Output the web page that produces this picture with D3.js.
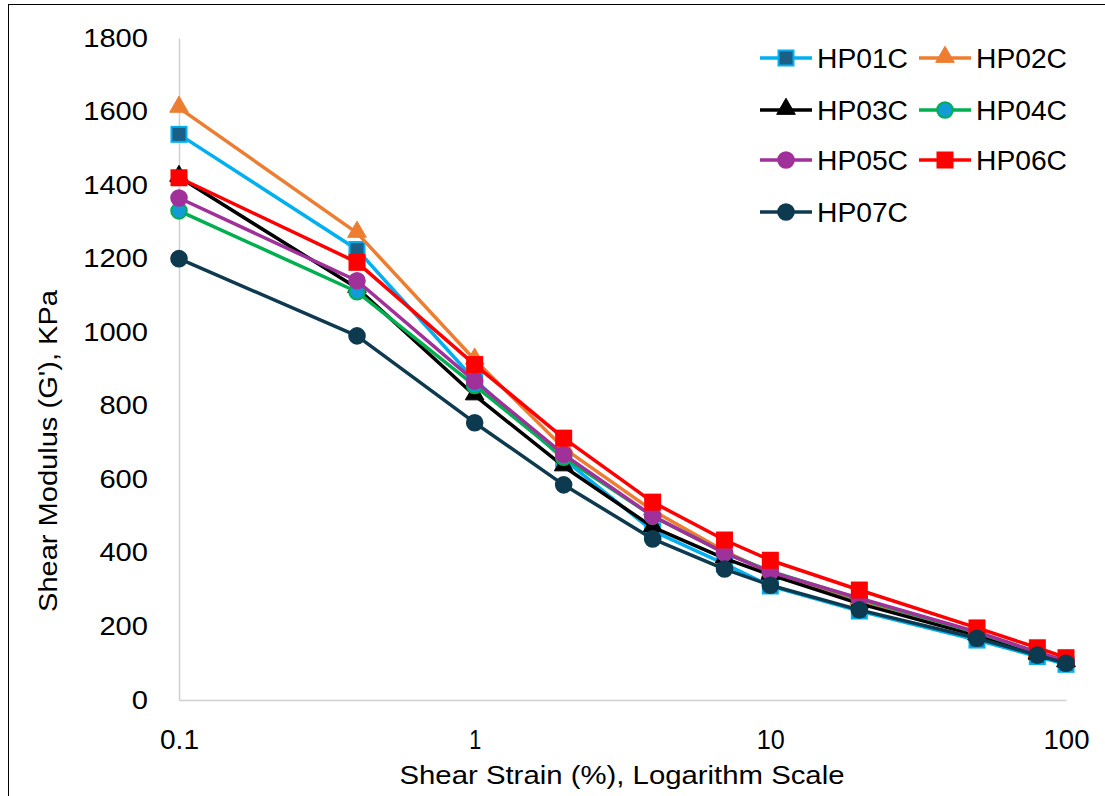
<!DOCTYPE html>
<html>
<head>
<meta charset="utf-8">
<script src="https://cdn.jsdelivr.net/npm/d3@7"></script>
<style>
  html, body { margin: 0; padding: 0; background: #fff; }
  svg { display: block; font-family: "Liberation Sans", Arial, sans-serif; }
</style>
</head>
<body>
<svg id="chart" width="1105" height="796"></svg>
<script>
// ---- data ----
const strain = [0.1, 0.4, 1, 2, 4, 7, 10, 20, 50, 80, 100];
const seriesNames = ["HP01C", "HP02C", "HP03C", "HP04C", "HP05C", "HP06C", "HP07C"];
const HP01C = [1538, 1225, 870, 655, 460, 370, 310, 242, 163, 118, 97];
const HP02C = [1610, 1270, 925, 685, 515, 405, 345, 272, 182, 128, 104];
const HP03C = [1422, 1120, 828, 635, 470, 385, 340, 262, 175, 123, 102];
const HP04C = [1330, 1110, 855, 660, 500, 400, 350, 275, 183, 130, 105];
const HP05C = [1365, 1140, 867, 668, 500, 400, 348, 277, 185, 130, 106];
const HP06C = [1420, 1190, 912, 712, 538, 435, 380, 299, 196, 142, 115];
const HP07C = [1200, 990, 754, 585, 438, 356, 312, 245, 168, 122, 100];
const yTicks = [0, 200, 400, 600, 800, 1000, 1200, 1400, 1600, 1800];
const xTicks = [0.1, 1, 10, 100];
const xTickLabels = ["0.1", "1", "10", "100"];
const xTitle = "Shear Strain (%), Logarithm Scale";
const yTitle = "Shear Modulus (G'), KPa";

const values = [HP01C, HP02C, HP03C, HP04C, HP05C, HP06C, HP07C];

// ---- styles ----
const styles = {
  HP01C: { line: "#00B0F0", fill: "#1B5E86", stroke: "#00B0F0", shape: "square" },
  HP02C: { line: "#ED7D31", fill: "#ED7D31", stroke: "#ED7D31", shape: "triangle" },
  HP03C: { line: "#000000", fill: "#000000", stroke: "#000000", shape: "triangle" },
  HP04C: { line: "#00B050", fill: "#139BD6", stroke: "#00B050", shape: "circle" },
  HP05C: { line: "#A0309A", fill: "#A0309A", stroke: "#A0309A", shape: "circle" },
  HP06C: { line: "#FF0000", fill: "#FF0000", stroke: "#FF0000", shape: "square" },
  HP07C: { line: "#0E3A50", fill: "#0E3A50", stroke: "#0E3A50", shape: "circle" }
};

const svg = d3.select("#chart");

// outer border (cropped on right/bottom in reference)
svg.append("rect").attr("x", 8.5).attr("y", 4.5).attr("width", 1200).attr("height", 900)
  .attr("fill", "none").attr("stroke", "#000").attr("stroke-width", 1);

const x = d3.scaleLog().domain([0.1, 100]).range([179, 1066]);
const y = d3.scaleLinear().domain([0, 1800]).range([700, 38]);

// axes
const yAxis = d3.axisLeft(y).tickValues(yTicks).tickSize(0).tickPadding(31).tickFormat(d3.format("d"));
const gy = svg.append("g").attr("transform", "translate(179,0)").call(yAxis);
gy.select(".domain").attr("stroke", "#d0d0d0").attr("stroke-width", 1.5);
gy.selectAll("text").attr("font-size", 25).attr("fill", "#000")
  .attr("font-family", "'Liberation Sans', Arial, sans-serif")
  .each(function(d) {
    const n = String(d).length;
    d3.select(this).attr("textLength", n * 16.2).attr("lengthAdjust", "spacingAndGlyphs");
  });

const xAxis = d3.axisBottom(x).tickValues(xTicks).tickSize(0).tickPadding(30)
  .tickFormat((d, i) => xTickLabels[i]);
const gx = svg.append("g").attr("transform", "translate(0,700)").call(xAxis);
gx.select(".domain").attr("stroke", "#d0d0d0").attr("stroke-width", 1.5);
const xTickWidths = [39, 12, 28, 46];
gx.selectAll("text").attr("font-size", 27).attr("fill", "#000")
  .attr("font-family", "'Liberation Sans', Arial, sans-serif")
  .each(function(d, i) {
    d3.select(this).attr("textLength", xTickWidths[i]).attr("lengthAdjust", "spacingAndGlyphs");
  });

// axis titles
svg.append("text").attr("x", 622).attr("y", 784).attr("text-anchor", "middle")
  .attr("font-size", 26).attr("fill", "#000")
  .attr("textLength", 445).attr("lengthAdjust", "spacingAndGlyphs")
  .text(xTitle);
svg.append("text").attr("transform", "translate(57,451) rotate(-90)").attr("text-anchor", "middle")
  .attr("font-size", 26).attr("fill", "#000")
  .attr("textLength", 322).attr("lengthAdjust", "spacingAndGlyphs")
  .text(yTitle);

// markers
function drawMarker(g, shape, st, cx, cy) {
  if (shape === "square") {
    g.append("rect").attr("x", cx - 7.5).attr("y", cy - 7.5).attr("width", 15).attr("height", 15)
      .attr("fill", st.fill).attr("stroke", st.stroke).attr("stroke-width", 2);
  } else if (shape === "triangle") {
    const s = d3.symbol().type(d3.symbolTriangle).size(150)();
    g.append("path").attr("d", s).attr("transform", `translate(${cx},${cy - 1})`)
      .attr("fill", st.fill).attr("stroke", st.stroke).attr("stroke-width", 1);
  } else {
    g.append("circle").attr("cx", cx).attr("cy", cy).attr("r", 7.8)
      .attr("fill", st.fill).attr("stroke", st.stroke).attr("stroke-width", 2);
  }
}

const line = d3.line().x(d => x(d[0])).y(d => y(d[1]));

seriesNames.forEach((name, i) => {
  const st = styles[name];
  const pts = strain.map((s, j) => [s, values[i][j]]);
  const g = svg.append("g");
  g.append("path").datum(pts).attr("d", line).attr("fill", "none")
    .attr("stroke", st.line).attr("stroke-width", 3.5).attr("stroke-linejoin", "round");
  pts.forEach(p => drawMarker(g, st.shape, st, x(p[0]), y(p[1])));
});

// legend
const legRows = [58, 110, 160, 212];
const legCols = [760, 919];
seriesNames.forEach((name, i) => {
  const st = styles[name];
  const col = i % 2, row = Math.floor(i / 2);
  const lx = legCols[col], ly = legRows[row];
  const g = svg.append("g");
  g.append("line").attr("x1", lx).attr("x2", lx + 52).attr("y1", ly).attr("y2", ly)
    .attr("stroke", st.line).attr("stroke-width", 3.5);
  drawMarker(g, st.shape, st, lx + 26, ly);
  g.append("text").attr("x", lx + 57).attr("y", ly + 10).attr("font-size", 27).attr("fill", "#000")
    .attr("textLength", 91).attr("lengthAdjust", "spacingAndGlyphs")
    .text(name);
});
</script>
</body>
</html>
